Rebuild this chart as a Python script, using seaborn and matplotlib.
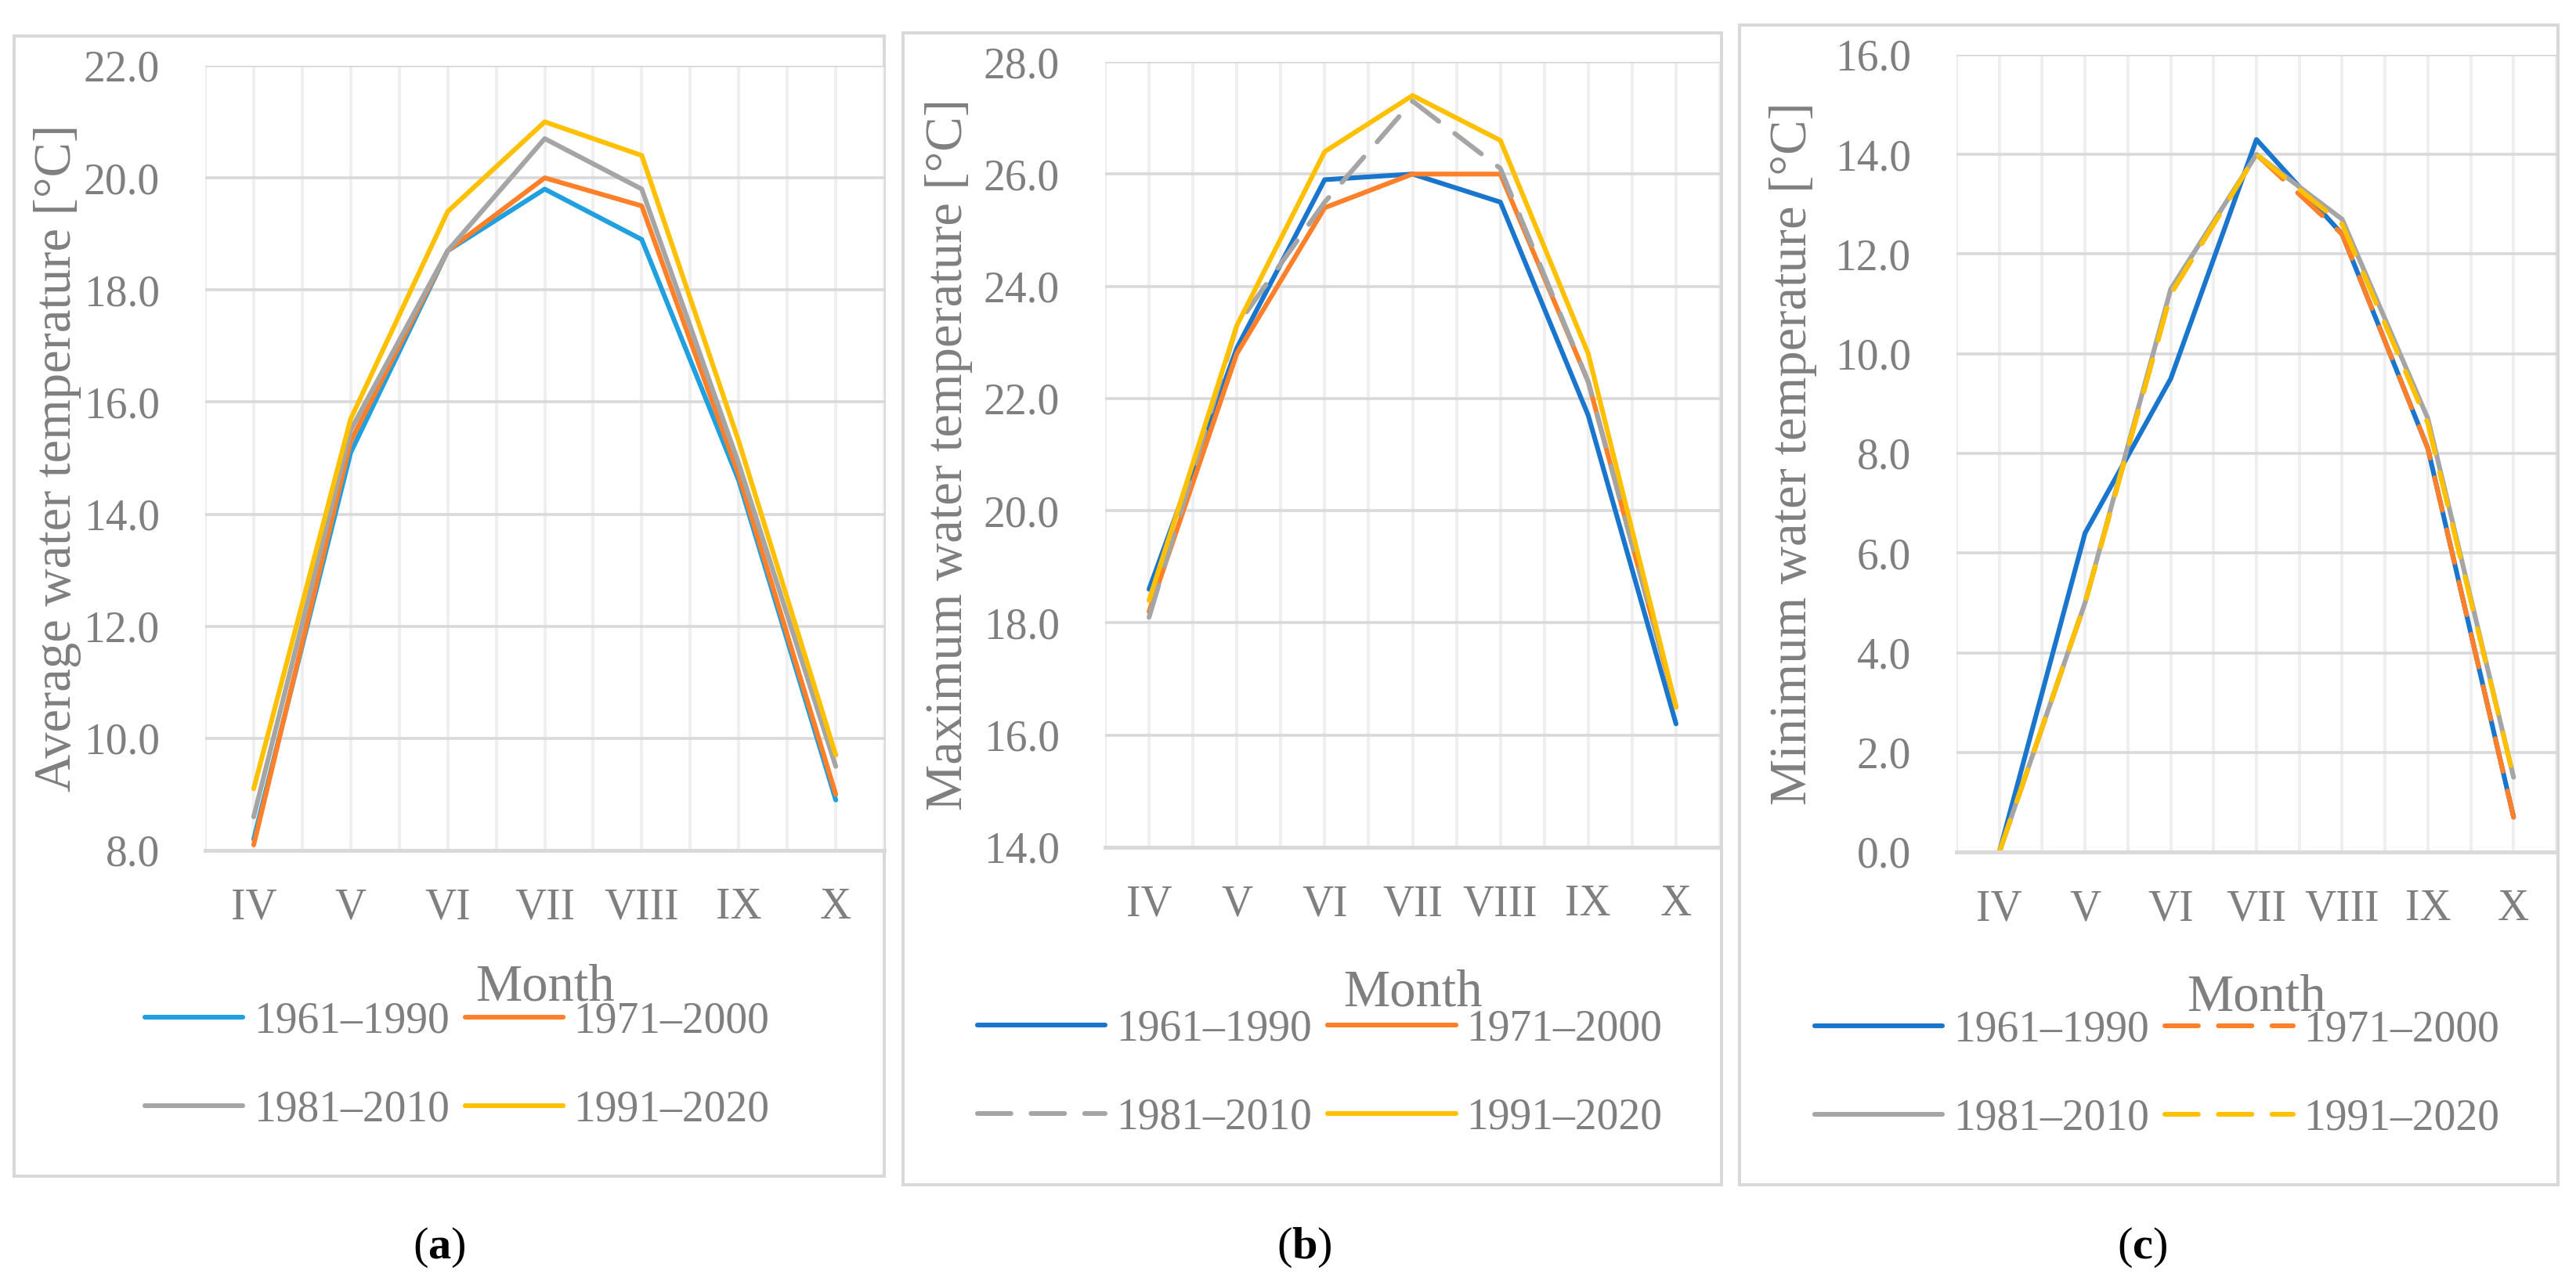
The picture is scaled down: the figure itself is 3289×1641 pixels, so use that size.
import numpy as np
import pandas as pd
import matplotlib
matplotlib.use("Agg")
import matplotlib.pyplot as plt
import seaborn as sns
from matplotlib.patches import Rectangle
from matplotlib.ticker import FormatStrFormatter, FixedLocator

# ---------------- data ----------------
months = ['IV', 'V', 'VI', 'VII', 'VIII', 'IX', 'X']
periods = ['1961–1990', '1971–2000', '1981–2010', '1991–2020']

avg_1961_1990 = [8.2, 15.1, 18.7, 19.8, 18.9, 14.6, 8.9]
avg_1971_2000 = [8.1, 15.3, 18.7, 20.0, 19.5, 14.7, 9.0]
avg_1981_2010 = [8.6, 15.5, 18.7, 20.7, 19.8, 14.9, 9.5]
avg_1991_2020 = [9.1, 15.7, 19.4, 21.0, 20.4, 15.3, 9.7]

max_1961_1990 = [18.6, 22.9, 25.9, 26.0, 25.5, 21.7, 16.2]
max_1971_2000 = [18.2, 22.8, 25.4, 26.0, 26.0, 22.3, 16.5]
max_1981_2010 = [18.1, 23.3, 25.5, 27.3, 26.1, 22.3, 16.5]
max_1991_2020 = [18.4, 23.3, 26.4, 27.4, 26.6, 22.8, 16.5]

min_1961_1990 = [0.0, 6.4, 9.5, 14.3, 12.4, 8.1, 0.7]
min_1971_2000 = [0.0, 5.0, 11.2, 14.0, 12.4, 8.1, 0.7]
min_1981_2010 = [0.0, 5.0, 11.3, 14.0, 12.7, 8.7, 1.5]
min_1991_2020 = [0.0, 5.0, 11.2, 14.0, 12.6, 8.6, 1.5]

y_titles = ['Average water temperature [°C]',
            'Maximum water temperature [°C]',
            'Minimum water temperature [°C]']
x_title = 'Month'
captions = ['a', 'b', 'c']
y_ranges = [(8, 22), (14, 28), (0, 16)]

# ---------------- style ----------------
sns.set_style('white')
plt.rcParams['font.family'] = ['Liberation Serif', 'DejaVu Serif']
plt.rcParams['mathtext.fontset'] = 'custom'
plt.rcParams['mathtext.rm'] = 'Liberation Serif'
plt.rcParams['mathtext.bf'] = 'Liberation Serif:bold'

W, H = 3289, 1641
fig = plt.figure(figsize=(W / 100, H / 100), dpi=100)
fig.patch.set_facecolor('white')

TXT = '#7F7F7F'
GRID_H = '#D9D9D9'
GRID_V = '#EFEFEF'
FS = 40
LW = 4.4
DASH = (7.0, 4.2)

orange = '#FF8028'
gray = '#A5A5A5'
yellow = '#FFC000'
blue_a = '#20A0DE'
blue_bc = '#1A76CC'

panels = [
    dict(series=[avg_1961_1990, avg_1971_2000, avg_1981_2010, avg_1991_2020],
         colors=[blue_a, orange, gray, yellow],
         dashed=[False, False, False, False],
         ax=(262, 84, 1129, 1086), frame=(18, 46, 1129, 1502),
         ylab_x=74, xlab_off=175, leg=(584, 1361), hlen=2.25,
         cap=(561, 1593)),
    dict(series=[max_1961_1990, max_1971_2000, max_1981_2010, max_1991_2020],
         colors=[blue_bc, orange, gray, yellow],
         dashed=[False, False, True, False],
         ax=(1411, 79, 2196, 1082), frame=(1153, 42, 2198, 1513),
         ylab_x=1212, xlab_off=186, leg=(1685, 1371), hlen=2.95,
         cap=(1665, 1593)),
    dict(series=[min_1961_1990, min_1971_2000, min_1981_2010, min_1991_2020],
         colors=[blue_bc, orange, gray, yellow],
         dashed=[False, True, False, True],
         ax=(2498, 70, 3264, 1088), frame=(2221, 32, 3266, 1513),
         ylab_x=2290, xlab_off=186, leg=(2754, 1372), hlen=2.95,
         cap=(2735, 1593)),
]


def rect(l, t, r, b):
    return [l / W, 1 - b / H, (r - l) / W, (b - t) / H]


pos = np.arange(len(months))

for i, p in enumerate(panels):
    # outer frame
    l, t, r, b = p['frame']
    fig.add_artist(Rectangle((l / W, 1 - b / H), (r - l) / W, (b - t) / H,
                             transform=fig.transFigure, fill=False,
                             edgecolor='#D9D9D9', lw=2.9, zorder=0))
    al, at, ar, ab = p['ax']
    ax = fig.add_axes(rect(*p['ax']))
    ax.set_facecolor('white')

    rows = []
    for per, vals in zip(periods, p['series']):
        for x, v in zip(pos, vals):
            rows.append(dict(pos=x, value=v, period=per))
    df = pd.DataFrame(rows)
    palette = dict(zip(periods, p['colors']))
    dashes = {per: (DASH if d else '') for per, d in zip(periods, p['dashed'])}
    sns.lineplot(data=df, x='pos', y='value', hue='period', style='period',
                 hue_order=periods, style_order=periods,
                 palette=palette, dashes=dashes, markers=False,
                 linewidth=LW, legend=False, ax=ax, errorbar=None,
                 solid_capstyle='round', dash_capstyle='round',
                 solid_joinstyle='round', dash_joinstyle='round')
    lines = list(ax.lines)
    for ln, per in zip(lines, periods):
        ln.set_label(per)

    ax.set_xlim(-0.5, len(months) - 0.5)
    ax.set_ylim(*y_ranges[i])
    ax.yaxis.set_major_locator(FixedLocator(np.arange(y_ranges[i][0], y_ranges[i][1] + 0.1, 2)))
    ax.yaxis.set_major_formatter(FormatStrFormatter('%.1f'))
    ax.set_xticks(pos)
    ax.set_xticklabels(months)
    ax.xaxis.set_minor_locator(FixedLocator(np.arange(-0.5, len(months), 1.0)))

    ax.set_axisbelow(True)
    ax.grid(True, which='both', axis='x', color=GRID_V, lw=2.9)
    ax.grid(True, which='major', axis='y', color=GRID_H, lw=2.6)
    for s in ['left', 'right', 'top']:
        ax.spines[s].set_visible(False)
    ax.spines['bottom'].set_color(GRID_H)
    ax.spines['bottom'].set_linewidth(3.6)

    ax.tick_params(axis='y', which='both', length=0, pad=42, labelsize=FS, labelcolor=TXT)
    ax.tick_params(axis='x', which='major', length=0, pad=34, labelsize=FS, labelcolor=TXT)
    ax.tick_params(axis='x', which='minor', length=12, width=2.9, color=GRID_H, direction='out')

    ax.set_ylabel(y_titles[i], fontsize=48, color=TXT, va='center')
    ax.yaxis.set_label_coords((p['ylab_x'] - al) / (ar - al), 0.5)
    ax.set_xlabel(x_title, fontsize=48, color=TXT, va='center')
    ax.xaxis.set_label_coords(0.5, -p['xlab_off'] / (ab - at))

    order = [0, 2, 1, 3]
    lx, ly = p['leg']
    leg = ax.legend(handles=[lines[k] for k in order],
                    labels=[periods[k] for k in order],
                    ncol=2, loc='center', bbox_to_anchor=(lx / W, 1 - ly / H),
                    bbox_transform=fig.transFigure, frameon=False,
                    fontsize=FS, handlelength=p['hlen'], handletextpad=0.25,
                    columnspacing=0.35, labelspacing=1.1, borderpad=0)
    for txt in leg.get_texts():
        txt.set_color(TXT)

    cx, cy = p['cap']
    fig.text(cx / W, 1 - cy / H, r'($\mathbf{' + captions[i] + r'}$)',
             ha='center', va='center', fontsize=42, color='black')

fig.savefig('out.png', dpi=100)
